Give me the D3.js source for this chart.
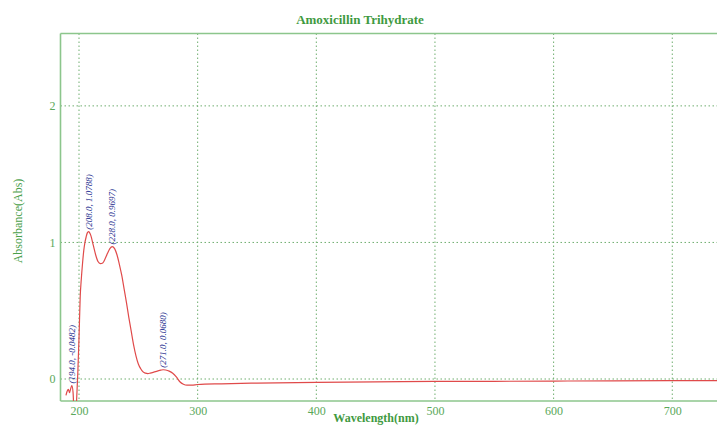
<!DOCTYPE html>
<html>
<head>
<meta charset="utf-8">
<script src="https://cdn.jsdelivr.net/npm/d3@7"></script>
<style>
  html, body { margin: 0; padding: 0; background: #fff; }
  svg { display: block; }
</style>
</head>
<body>
<script>
// ---- data ----
const wavelength = [189,190,191,192,193,194,195,196,197,198,199,200,201,202,203,204,205,206,207,208,209,210,212,214,216,218,220,222,224,226,228,230,232,234,236,238,240,242,244,246,248,250,252,254,256,258,260,263,266,269,271,273,276,279,282,285,288,291,295,300,320,350,400,450,500,550,600,650,700,738];
const absorbance = [-0.12,-0.09,-0.075,-0.10,-0.07,-0.0482,-0.10,-0.30,-0.35,-0.15,0.05,0.30,0.60,0.74,0.85,0.94,1.00,1.04,1.07,1.0788,1.07,1.05,0.98,0.91,0.86,0.845,0.85,0.88,0.92,0.955,0.9697,0.955,0.91,0.84,0.76,0.66,0.56,0.45,0.35,0.25,0.17,0.11,0.075,0.052,0.043,0.040,0.043,0.050,0.058,0.065,0.068,0.066,0.058,0.042,0.015,-0.02,-0.038,-0.045,-0.045,-0.040,-0.035,-0.030,-0.024,-0.021,-0.018,-0.017,-0.015,-0.013,-0.012,-0.012];
const peakWavelength = [194.0, 208.0, 228.0, 271.0];
const peakAbsorbance = [-0.0482, 1.0788, 0.9697, 0.0680];
const xTicks = [200, 300, 400, 500, 600, 700];
const yTicks = [0, 1, 2];
const titleText = "Amoxicillin Trihydrate";
const xLabel = "Wavelength(nm)";
const yLabel = "Absorbance(Abs)";

// ---- layout ----
const W = 717, H = 426;
const pLeft = 60.5, pTop = 33.5, pBottom = 401, pRight = 760;

const x = d3.scaleLinear().domain([184.4, 737.7]).range([pLeft, 717]);
const y = d3.scaleLinear().domain([-0.161, 2.53]).range([pBottom, pTop]);

const svg = d3.select("body").append("svg").attr("width", W).attr("height", H);

const green = "#5aa85a";
const frameGreen = "#8cc68c";
const gridGreen = "#6fae6f";
const serif = "'Liberation Serif', 'DejaVu Serif', serif";

svg.append("defs").append("clipPath").attr("id", "plotclip")
  .append("rect").attr("x", pLeft).attr("y", pTop).attr("width", pRight - pLeft).attr("height", pBottom - pTop);

// grid
svg.append("g").selectAll("line").data(xTicks).join("line")
  .attr("x1", d => x(d)).attr("x2", d => x(d)).attr("y1", pTop).attr("y2", pBottom)
  .attr("stroke", gridGreen).attr("stroke-width", 1).attr("stroke-dasharray", "1.5,2.5");
svg.append("g").selectAll("line").data(yTicks).join("line")
  .attr("x1", pLeft).attr("x2", pRight).attr("y1", d => y(d)).attr("y2", d => y(d))
  .attr("stroke", gridGreen).attr("stroke-width", 1).attr("stroke-dasharray", "1.5,2.5");

// frame
svg.append("line").attr("x1", pLeft).attr("x2", pLeft).attr("y1", pTop).attr("y2", pBottom)
  .attr("stroke", frameGreen).attr("stroke-width", 1.6);
svg.append("line").attr("x1", pLeft).attr("x2", pRight).attr("y1", pTop).attr("y2", pTop)
  .attr("stroke", frameGreen).attr("stroke-width", 1.6);
svg.append("line").attr("x1", pLeft).attr("x2", pRight).attr("y1", pBottom).attr("y2", pBottom)
  .attr("stroke", frameGreen).attr("stroke-width", 1.6);

// axes tick labels
const xAxis = d3.axisBottom(x).tickValues(xTicks).tickSize(0).tickPadding(5);
const gx = svg.append("g").attr("transform", `translate(0,${pBottom})`).call(xAxis);
gx.select(".domain").remove();
gx.selectAll("text").attr("fill", green).style("font-family", serif).style("font-size", "12px");

const yAxis = d3.axisLeft(y).tickValues(yTicks).tickSize(0).tickPadding(5).tickFormat(d3.format("d"));
const gy = svg.append("g").attr("transform", `translate(${pLeft},0)`).call(yAxis);
gy.select(".domain").remove();
gy.selectAll("text").attr("fill", green).style("font-family", serif).style("font-size", "12px");

// curve
const pts = wavelength.map((w, i) => [w, absorbance[i]]);
const line = d3.line().x(d => x(d[0])).y(d => y(d[1])).curve(d3.curveMonotoneX);
svg.append("path").datum(pts).attr("clip-path", "url(#plotclip)")
  .attr("d", line).attr("fill", "none").attr("stroke", "#e04a4a").attr("stroke-width", 1.2);

// peak labels
peakWavelength.forEach((w, i) => {
  const px = x(w), py = y(peakAbsorbance[i]);
  svg.append("text")
    .attr("transform", `translate(${px + 3},${py - 2}) rotate(-90)`)
    .attr("text-anchor", "start")
    .attr("fill", "#1f2f90")
    .style("font-family", serif).style("font-style", "italic").style("font-size", "9px")
    .text(`(${w.toFixed(1)}, ${peakAbsorbance[i].toFixed(4)})`);
});

// title & axis labels
svg.append("text").attr("x", 360).attr("y", 24).attr("text-anchor", "middle")
  .attr("fill", "#3f9a3f").style("font-family", serif).style("font-size", "13px").style("font-weight", "bold")
  .text(titleText);
svg.append("text").attr("x", 376).attr("y", 422).attr("text-anchor", "middle")
  .attr("fill", "#3f9a3f").style("font-family", serif).style("font-size", "12px").style("font-weight", "bold")
  .text(xLabel);
svg.append("text").attr("transform", "translate(22,221) rotate(-90)").attr("text-anchor", "middle")
  .attr("fill", "#4aa04a").style("font-family", serif).style("font-size", "12px")
  .text(yLabel);
</script>
</body>
</html>
